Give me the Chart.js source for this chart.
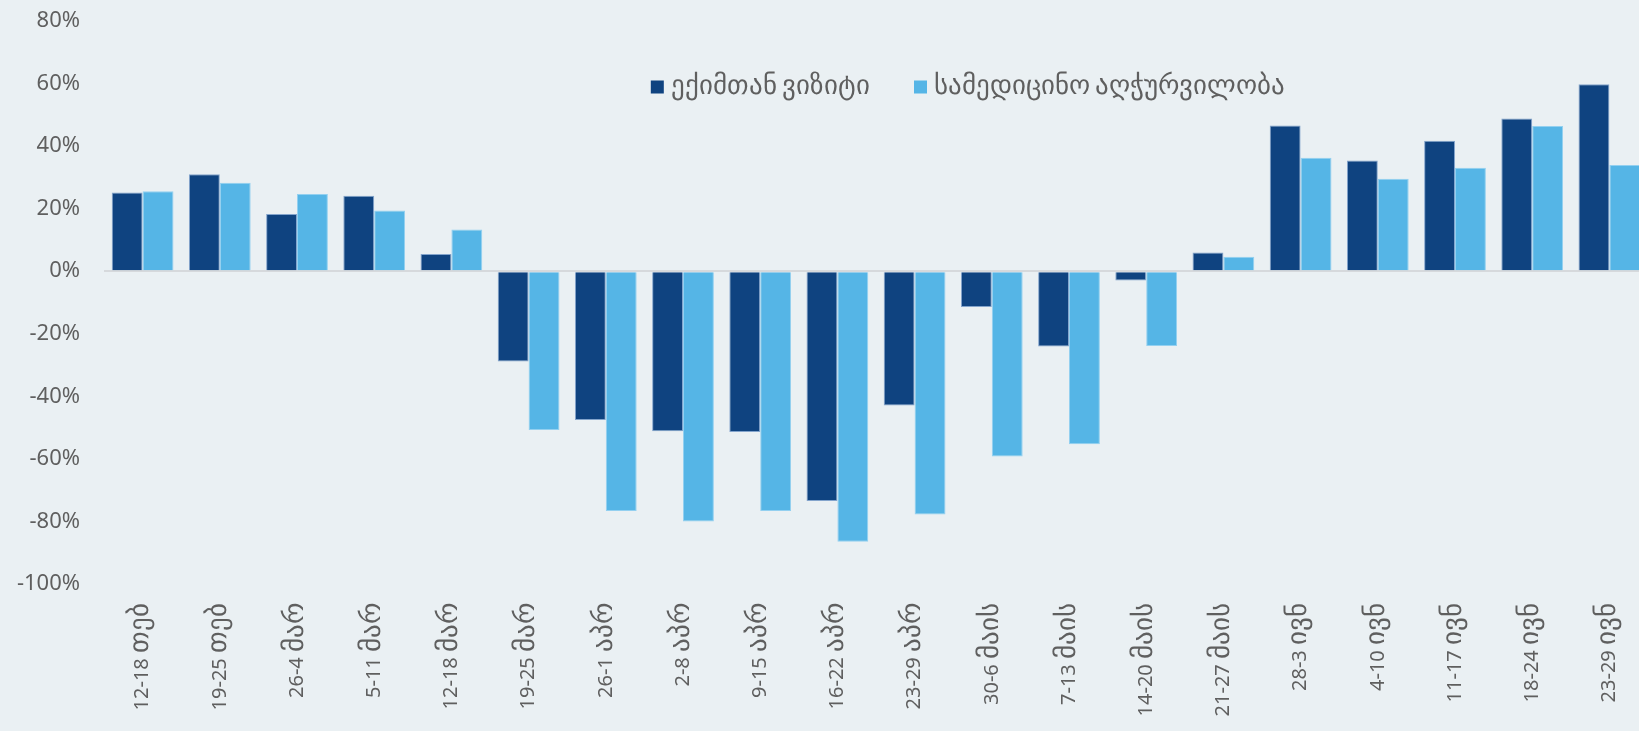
<!DOCTYPE html>
<html><head><meta charset="utf-8">
<script src="https://cdn.jsdelivr.net/npm/chart.js@4.4.0/dist/chart.umd.min.js"></script>
<style>
@font-face{font-family:'GeoX';src:local('DejaVu Sans');unicode-range:U+10A0-10FF;size-adjust:135%;}
html,body{margin:0;padding:0;background:#EAF0F3;overflow:hidden;width:1639px;height:731px}
#wrap{position:absolute;left:0;top:0;width:1648px;height:731px}
</style></head><body>
<div id="wrap"><canvas id="c"></canvas></div>
<script>
const categories = ['12-18 თებ','19-25 თებ','26-4 მარ','5-11 მარ','12-18 მარ','19-25 მარ','26-1 აპრ','2-8 აპრ','9-15 აპრ','16-22 აპრ','23-29 აპრ','30-6 მაის','7-13 მაის','14-20 მაის','21-27 მაის','28-3 ივნ','4-10 ივნ','11-17 ივნ','18-24 ივნ','23-29 ივნ'];
const doctorVisit = [25.2, 31.0, 18.3, 24.1, 5.5, -28.9, -47.6, -51.2, -51.4, -73.5, -42.9, -11.4, -24.1, -3.0, 6.0, 46.6, 35.4, 41.7, 48.8, 59.8];
const medicalEquipment = [25.6, 28.3, 24.7, 19.4, 13.3, -50.8, -76.7, -80.0, -76.7, -86.5, -77.8, -59.2, -55.3, -23.9, 4.6, 36.3, 29.6, 33.1, 46.4, 34.0];
const seriesNames = ['ექიმთან ვიზიტი', 'სამედიცინო აღჭურვილობა'];
const yMin = -100, yMax = 80, yStep = 20;

const FONT = "'GeoX','Noto Sans','DejaVu Sans',sans-serif";
const TEXT = '#5f5f5f';

const legendPlugin = {
  id: 'customLegend',
  afterDraw(chart) {
    const ctx = chart.ctx;
    ctx.save();
    ctx.font = '20px ' + FONT;
    const box = 13, gapBT = 7, gapItems = 44;
    const items = chart.data.datasets.map(d => ({text: d.label, color: d.backgroundColor, w: ctx.measureText(d.label).width}));
    const total = items.reduce((s, it) => s + box + gapBT + it.w, 0) + gapItems * (items.length - 1);
    const cx = 968, cy = 87;
    let x = cx - total / 2;
    ctx.textBaseline = 'middle';
    ctx.textAlign = 'left';
    items.forEach(it => {
      ctx.fillStyle = it.color;
      ctx.fillRect(x, cy - box / 2, box, box);
      x += box + gapBT;
      ctx.fillStyle = TEXT;
      ctx.fillText(it.text, x, cy + 1);
      x += it.w + gapItems;
    });
    ctx.restore();
  }
};

function draw() {
  new Chart(document.getElementById('c'), {
    type: 'bar',
    data: {
      labels: categories,
      datasets: [
        {label: seriesNames[0], data: doctorVisit, backgroundColor: '#0F4380', borderColor: 'rgba(120,155,200,0.9)', borderWidth: 1},
        {label: seriesNames[1], data: medicalEquipment, backgroundColor: '#55B5E6', borderColor: '#93d0f0', borderWidth: 1}
      ]
    },
    options: {
      responsive: true,
      maintainAspectRatio: false,
      animation: false,
      layout: {padding: {top: 21, left: 0, right: 0, bottom: 0}},
      datasets: {bar: {categoryPercentage: 0.8, barPercentage: 1.0}},
      plugins: {legend: {display: false}, tooltip: {enabled: false}},
      scales: {
        x: {
          grid: {display: false},
          border: {display: false},
          ticks: {autoSkip: false, minRotation: 90, maxRotation: 90, padding: 11, color: TEXT, font: {family: FONT, size: 20}},
          afterFit(scale) { scale.height = 147; }
        },
        y: {
          min: yMin, max: yMax,
          border: {display: false},
          grid: {drawTicks: false, lineWidth: 2, color: c => c.tick && c.tick.value === 0 ? '#d6d9dc' : 'rgba(0,0,0,0)'},
          ticks: {stepSize: yStep, padding: 24, color: TEXT, font: {family: FONT, size: 22}, callback: v => v + '%'},
          afterFit(scale) { scale.width = 104; scale.paddingTop = 12; scale.paddingBottom = 12; }
        }
      }
    },
    plugins: [legendPlugin]
  });
}

const loads = [document.fonts.load('20px GeoX', 'ა'), document.fonts.load('20px "Noto Sans"', '0')];
Promise.race([Promise.all(loads), new Promise(r => setTimeout(r, 1500))]).then(draw, draw);
</script>
</body></html>
